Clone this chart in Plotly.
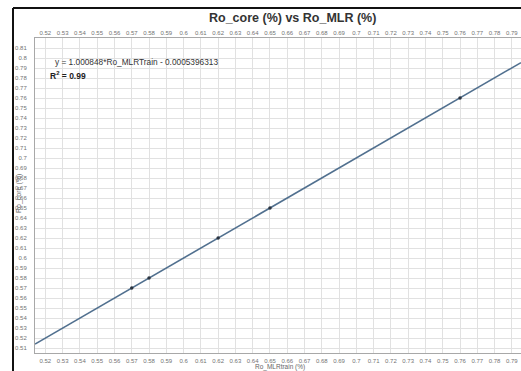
import plotly.graph_objects as go

# ---- data ----
ro_mlr_train = [0.57, 0.58, 0.62, 0.65, 0.76]   # x: Ro_MLRtrain (%)
ro_core = [0.57, 0.58, 0.62, 0.65, 0.76]        # y: Ro_core (%)
fit_slope = 1.000848
fit_intercept = -0.0005396313
x_tick_vals = [round(0.52 + 0.01 * i, 2) for i in range(28)]   # 0.52 .. 0.79
y_tick_vals = [round(0.51 + 0.01 * i, 2) for i in range(31)]   # 0.51 .. 0.81
x_range = [0.514, 0.7953]
y_range = [0.505, 0.82]

fit_x = [x_range[0], x_range[1]]
fit_y = [fit_slope * v + fit_intercept for v in fit_x]

def lab(v):
    return f"{v:.2f}".rstrip("0")

W, H = 521, 371
L, R, T, B = 35, 0, 38, 18
pw, ph = W - L - R, H - T - B

def px(x):
    return (x - L) / pw

def py(y):
    return (H - B - y) / ph

fig = go.Figure()
fig.add_trace(go.Scatter(x=fit_x, y=fit_y, mode="lines",
                         line=dict(color="#51708f", width=1.6),
                         hoverinfo="skip", showlegend=False))
fig.add_trace(go.Scatter(x=ro_mlr_train, y=ro_core, mode="markers",
                         marker=dict(color="#2b3440", size=3.5),
                         showlegend=False))
fig.add_trace(go.Scatter(x=fit_x, y=fit_y, xaxis="x2", mode="lines",
                         line=dict(width=0), opacity=0, hoverinfo="skip",
                         showlegend=False))

tickfont = dict(family="Liberation Sans, Arial", size=6, color="#737373")
axis_common = dict(showgrid=True, gridcolor="#e1e1e1", gridwidth=1,
                   zeroline=False, showline=True, linecolor="#a8a8a8",
                   linewidth=1, ticks="", tickfont=tickfont)

fig.update_layout(
    width=W, height=H,
    margin=dict(l=L, r=R, t=T, b=B),
    paper_bgcolor="white", plot_bgcolor="white",
    xaxis=dict(range=x_range, tickmode="array", tickvals=x_tick_vals,
               ticktext=[lab(v) for v in x_tick_vals], mirror=True,
               ticklabelstandoff=2, **axis_common),
    xaxis2=dict(range=x_range, overlaying="x", side="top", matches="x",
                tickmode="array", tickvals=x_tick_vals,
                ticktext=[lab(v) for v in x_tick_vals], showgrid=False,
                zeroline=False, showline=False, ticks="", tickfont=tickfont,
                ticklabelstandoff=1),
    yaxis=dict(range=y_range, tickmode="array", tickvals=y_tick_vals,
               ticktext=[lab(v) for v in y_tick_vals], mirror=True,
               ticklabelstandoff=6, **axis_common),
    font=dict(family="Liberation Sans, Arial"),
)

# Title and texts
fig.add_annotation(x=px(292), y=py(18), xref="paper", yref="paper",
                   xanchor="center", yanchor="middle",
                   text="<b>Ro_core (%) vs Ro_MLR (%)</b>", showarrow=False,
                   font=dict(size=12.5, color="#333333"))
fig.add_annotation(x=px(53), y=py(62), xref="paper", yref="paper",
                   xanchor="left", yanchor="middle",
                   text="y = 1.000848*Ro_MLRTrain - 0.0005396313",
                   showarrow=False, font=dict(size=8.3, color="#333333"))
fig.add_annotation(x=px(48), y=py(75), xref="paper", yref="paper",
                   xanchor="left", yanchor="middle",
                   text="<b>R<sup>2</sup> = 0.99</b>",
                   showarrow=False, font=dict(size=8.5, color="#222222"))
fig.add_annotation(x=px(19), y=py(194), xref="paper", yref="paper",
                   xanchor="center", yanchor="middle",
                   text="Ro_core (%)", textangle=-90, showarrow=False,
                   font=dict(size=7, color="#666666"))
fig.add_annotation(x=px(280), y=py(366.5), xref="paper", yref="paper",
                   xanchor="center", yanchor="middle",
                   text="Ro_MLRtrain (%)", showarrow=False,
                   font=dict(size=6.5, color="#666666"))

# Outer frame (top and left edges)
fig.add_shape(type="line", xref="paper", yref="paper",
              x0=px(13), x1=px(521), y0=py(8), y1=py(8),
              line=dict(color="#111111", width=2))
fig.add_shape(type="line", xref="paper", yref="paper",
              x0=px(13), x1=px(13), y0=py(8), y1=py(371),
              line=dict(color="#111111", width=2))

fig.write_html("out.html", config={"displayModeBar": False},
               post_script="document.body.style.margin='0px';document.body.style.overflow='hidden';")
